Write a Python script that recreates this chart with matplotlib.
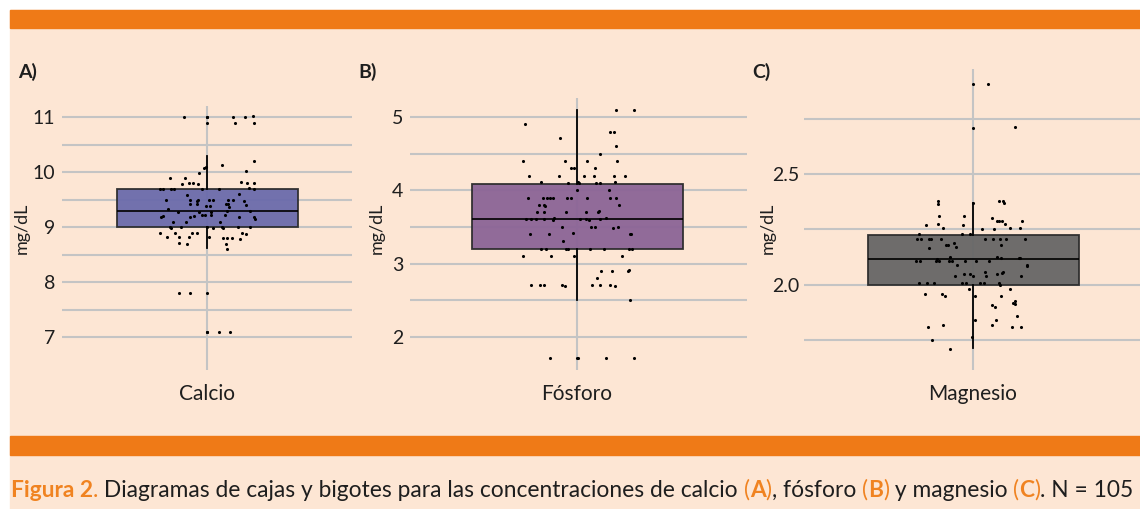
import matplotlib
matplotlib.use("Agg")
import matplotlib.pyplot as plt
import numpy as np
from matplotlib.patches import Rectangle
from matplotlib.ticker import MultipleLocator, FormatStrFormatter

W, H = 1140, 509
PEACH = "#FDE6D4"
ORANGE = "#EF7A17"
ORANGE_TXT = "#F08321"
GRID = "#C4C4C4"
INK = "#1E1E1E"
plt.rcParams.update({"font.family": ["Lato", "DejaVu Sans"], "text.color": INK,
                     "xtick.color": INK, "ytick.color": INK})

# ---------------- data (value, horizontal jitter) -------
calcio_vals = [11.0, 11.0, 11.0, 10.9, 11.0, 10.9, 11.0, 11.02, 10.9,
               10.2, 10.12, 10.08, 10.1, 9.99, 10.02,
               9.9, 9.9, 9.79, 9.8, 9.8, 9.79, 9.82, 9.8, 9.8, 9.71, 9.7, 9.69, 9.7, 9.7, 9.7, 9.7, 9.69,
               9.58, 9.49, 9.49, 9.5, 9.48, 9.5, 9.5, 9.49, 9.5, 9.6, 9.48,
               9.41, 9.41, 9.38, 9.38, 9.41, 9.41, 9.36, 9.4,
               9.32, 9.28, 9.28, 9.28, 9.3, 9.3,
               9.19, 9.2, 9.19, 9.2, 9.21, 9.21, 9.21, 9.21, 9.19, 9.19, 9.15,
               9.1, 9.1, 9.1,
               9.0, 8.99, 9.0, 9.0, 8.99, 9.0, 8.99, 9.0, 9.0,
               8.9, 8.9, 8.9, 8.9, 8.9, 8.88,
               8.82, 8.82, 8.81, 8.81, 8.8, 8.8, 8.8, 8.79,
               8.71, 8.69, 8.69, 8.6,
               7.8, 7.8, 7.8, 7.1, 7.1, 7.1, 7.1]
calcio_jit = [-23, 0, 0, 0, 26, 28, 38, 46, 47,
              47, 15, -3, -1.5, -8, 39,
              -37, -22, -25, -18, -14, -9, 34, 40, 47, 42, -47, -44, -36, -33, -5, 12, 47,
              -20, -41, -17, -9, -10, 2, 6, 21, 26, 32, 37,
              -17, -10, -1, 3, 19, 21, 22, 39,
              -39, -29, -8, 4, 20, 43,
              -46, -44, -17, -13, -5, -2, 4, 18, 32, 47, 48,
              -34, -21, 13,
              -37, -36, -26, 0, 6, 15, 16, 31, 43,
              -47, -32, -15, -10, 35, 39,
              -40, -28, -18, 2, 16, 20, 25, 33,
              -28, -20, 19, 20,
              -28, -17, 0, 0, 0, 12, 23]

fosforo_vals = [5.1, 5.1, 4.9, 4.8, 4.8, 4.71, 4.61, 4.5,
                4.4, 4.4, 4.4, 4.4, 4.31, 4.31, 4.3,
                4.2, 4.2, 4.2, 4.2, 4.2, 4.2,
                4.11, 4.1, 4.11, 4.1, 4.1, 4.1, 4.11,
                4.0, 4.0,
                3.9, 3.9, 3.9, 3.9, 3.9, 3.9, 3.9, 3.9, 3.9, 3.9,
                3.8, 3.8, 3.8, 3.79,
                3.71, 3.71, 3.71, 3.71, 3.7, 3.72,
                3.61, 3.61, 3.61, 3.61, 3.6, 3.62, 3.61, 3.61, 3.6, 3.61, 3.62,
                3.5, 3.5, 3.5, 3.49, 3.5,
                3.41, 3.41, 3.42, 3.41, 3.41,
                3.31,
                3.2, 3.2, 3.2, 3.2, 3.2, 3.2, 3.2, 3.2,
                3.11, 3.11, 3.1, 3.11,
                2.9, 2.9, 2.9, 2.91, 2.8,
                2.71, 2.71, 2.71, 2.71, 2.7, 2.71, 2.71, 2.71, 2.7,
                2.5,
                1.71, 1.71, 1.71, 1.71, 1.71]
fosforo_jit = [39, 57, -52, 33, 37, -17, 39, 23,
               -54, -12, 10, 40, -6, -3, 18,
               -48, -18, 7, 17, 37, 48,
               -36, -9, 1, 2, 19, 23, 38,
               0, 32,
               -49, -34, -30, -27, -24, -10, -6, 10, 33, 39,
               42, -38, -33, -32,
               -40, -33, -11, 9, 21, 22,
               -51, -46, -41, -33, -24, -23, 3, 9, 12, 23, 29,
               -15, 14, 18, 36, 41,
               -47, -28, -4, 53, 54,
               -14,
               -36, -31, -11, -9, 13, 27, 52, 55,
               -54, -26, -3, 45,
               24, 35, 51, 52, 20,
               -46, -37, -33, -15, -12, 15, 23, 33, 38,
               53,
               -27, 0, 1, 29, 57]

magnesio_vals = [2.905, 2.905, 2.706, 2.71,
                 2.38, 2.366, 2.38, 2.38, 2.37, 2.37,
                 2.31, 2.31, 2.30, 2.29, 2.29, 2.29, 2.29,
                 2.27, 2.276, 2.27, 2.276,
                 2.258, 2.25, 2.25, 2.258, 2.258,
                 2.23, 2.23, 2.23,
                 2.207, 2.207, 2.207, 2.207, 2.207, 2.207, 2.207, 2.207, 2.207, 2.207,
                 2.19, 2.18, 2.18, 2.17, 2.18, 2.167,
                 2.126, 2.128, 2.12, 2.12,
                 2.11, 2.11, 2.11, 2.118, 2.11, 2.11, 2.11, 2.11, 2.11, 2.11, 2.12,
                 2.09, 2.09, 2.085,
                 2.06, 2.06, 2.055,
                 2.04, 2.048, 2.048, 2.04, 2.04, 2.05, 2.04,
                 2.009, 2.009, 2.009, 2.009, 2.009, 2.009, 2.009, 2.009, 2.0,
                 1.98, 1.98,
                 1.96, 1.96, 1.95, 1.95, 1.95,
                 1.93, 1.92, 1.915, 1.91, 1.9,
                 1.86, 1.84, 1.84, 1.82, 1.81, 1.82, 1.81, 1.81,
                 1.765, 1.75, 1.71]
magnesio_jit = [0, 15, 0, 42,
                -35, -35, 26, 30, 31, 0,
                -34, -9, 19, 24, 26, 29, 49,
                -47, -35, -10, 32,
                -30, 9, 21, 37, 47,
                -54, -11, -3,
                -56, -52, -44, -42, -32, 12, 20, 27, 33, 52,
                -19, -27, -25, -17, 28, -44,
                -23, 24, 28, 46,
                -57, -53, -37, -36, -34, -24, -21, -8, 3, 16, 47,
                -16, 54, 54,
                12, 30, 29,
                -18, -9, -3, 0, 13, 24, 48,
                -54, -46, -39, -11, -7, 7, 11, 26, 27,
                -4, 37,
                -48, -31, -28, 2, 28,
                42, 40, 42, 19, 22,
                44, 2, 23, 19, -45, -30, 39, 48,
                -1, -41, -23]

# box statistics as drawn in the figure
calcio_box = dict(q1=9.0, med=9.3, q3=9.7, whislo=8.62, whishi=10.3)
fosforo_box = dict(q1=3.2, med=3.61, q3=4.09, whislo=2.5, whishi=5.09)
magnesio_box = dict(q1=2.0, med=2.116, q3=2.225, whislo=1.715, whishi=2.37)

categories = ["Calcio", "Fósforo", "Magnesio"]
letters = ["A)", "B)", "C)"]
grid_ranges = [(7.0, 11.0), (2.0, 5.0), (1.75, 2.75)]


def px_rect(x0, y0, x1, y1):
    return [x0 / W, 1 - y1 / H, (x1 - x0) / W, (y1 - y0) / H]


fig = plt.figure(figsize=(W / 100, H / 100), dpi=100, facecolor="white")
fig.patches.append(Rectangle((10 / W, 0), 1, 1 - 10 / H, transform=fig.transFigure,
                             color=PEACH, zorder=-10))
for y0, y1 in [(10, 28), (436, 455)]:
    fig.patches.append(Rectangle((10 / W, 1 - y1 / H), 1, (y1 - y0) / H,
                                 transform=fig.transFigure, color=ORANGE, zorder=-5))

panels = [
    # rect px, xlim, ylim, label step, grid step, fmt, box width, colour, label x, ylabel x, ypad
    (px_rect(62, 106, 352, 370), (-145, 145), (6.4, 11.2), 1, 0.5, "%d", 181, "#6B6BAB",
     calcio_vals, calcio_jit, calcio_box, 18, 22, 5),
    (px_rect(410, 98, 747, 370), (-167, 170), (1.55, 5.26), 1, 0.5, "%d", 211, "#8B6496",
     fosforo_vals, fosforo_jit, fosforo_box, 358, 377, 5),
    (px_rect(804, 69, 1140, 370), (-169, 167), (1.617, 2.973), 0.5, 0.25, "%.1f", 211, "#666666",
     magnesio_vals, magnesio_jit, magnesio_box, 752, 768, 3.6),
]

for i, (rect, xl, yl, step, gstep, fmt, bw, col, vals, jit, st, lx, ylx, ypad) in enumerate(panels):
    ax = fig.add_axes(rect)
    ax.set_facecolor("none")
    ax.set_xlim(*xl)
    ax.set_ylim(*yl)
    for s in ax.spines.values():
        s.set_visible(False)
    ax.yaxis.set_major_locator(MultipleLocator(step))
    lo, hi = grid_ranges[i]
    ax.set_yticks(np.arange(lo, hi + gstep / 2, gstep), minor=True)
    ax.yaxis.set_major_formatter(FormatStrFormatter(fmt))
    ax.grid(axis="y", which="both", color=GRID, lw=1.5, zorder=0)
    ax.axvline(0, color=GRID, lw=1.5, zorder=0)
    ax.tick_params(axis="y", which="both", length=0, labelsize=14, pad=ypad)
    ax.set_xticks([0])
    ax.set_xticklabels([categories[i]], fontsize=15)
    ax.tick_params(axis="x", length=0, pad=10)
    ax.set_axisbelow(True)
    ax.bxp([dict(fliers=[], **st)], positions=[0], widths=[bw], patch_artist=True,
           showcaps=False, showfliers=False, manage_ticks=False, zorder=2,
           boxprops=dict(facecolor=col, edgecolor="#2B2B2B", linewidth=1.3, alpha=0.95),
           medianprops=dict(color="black", linewidth=1.2),
           whiskerprops=dict(color="black", linewidth=1.3))
    ax.set_ylim(*yl)
    ax.scatter(jit, vals, s=5, color="black", linewidths=0, zorder=4)
    fig.text(lx / W, 1 - 72 / H, letters[i], fontsize=14, fontweight="bold",
             ha="left", va="center")
    fig.text(ylx / W, 1 - 228 / H, "mg/dL", fontsize=13, rotation=90,
             ha="center", va="center")

# ---------------- caption, pieces laid side by side --------------------------
caption = [("Figura 2", ORANGE_TXT, "bold"), (".", ORANGE_TXT, "normal"),
           (" Diagramas de cajas y bigotes para las concentraciones de calcio ", INK, "normal"),
           ("(", ORANGE_TXT, "normal"), ("A", ORANGE_TXT, "bold"), (")", ORANGE_TXT, "normal"),
           (", fósforo ", INK, "normal"),
           ("(", ORANGE_TXT, "normal"), ("B", ORANGE_TXT, "bold"), (")", ORANGE_TXT, "normal"),
           (" y magnesio ", INK, "normal"),
           ("(", ORANGE_TXT, "normal"), ("C", ORANGE_TXT, "bold"), (")", ORANGE_TXT, "normal"),
           (". N = 105", INK, "normal")]

renderer = fig.canvas.get_renderer()


def piece_width(s, size, weight):
    t = fig.text(0, 0, "|" + s + "|", fontsize=size, fontweight=weight)
    w1 = t.get_window_extent(renderer).width
    t.set_text("||")
    w0 = t.get_window_extent(renderer).width
    t.remove()
    return w1 - w0


base = 14
total = sum(piece_width(s, base, w) for s, _, w in caption)
size = base * 1127 / total
x = 11
for s, c, w in caption:
    fig.text(x / W, 1 - 497 / H, s, color=c, fontsize=size, fontweight=w,
             ha="left", va="baseline")
    x += piece_width(s, size, w)

fig.savefig("out.png", dpi=100, facecolor="white")
